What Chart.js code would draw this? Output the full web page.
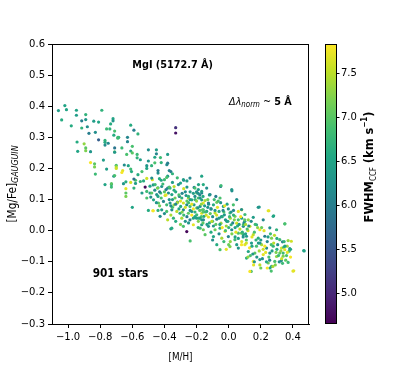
<!DOCTYPE html>
<html>
<head>
<meta charset="utf-8">
<script src="https://cdn.jsdelivr.net/npm/chart.js@4.4.1/dist/chart.umd.min.js"></script>
<style>
  html, body { margin: 0; padding: 0; background: #fff; }
  #wrap { width: 415px; height: 371px; }
</style>
</head>
<body>
<div id="wrap"><canvas id="myChart" width="415" height="371"></canvas></div>
<script>
// tick labels
const xTicks = [-1.0, -0.8, -0.6, -0.4, -0.2, 0.0, 0.2, 0.4];
const yTicks = [-0.3, -0.2, -0.1, 0.0, 0.1, 0.2, 0.3, 0.4, 0.5, 0.6];
const cbTicks = [5.0, 5.5, 6.0, 6.5, 7.0, 7.5];
const xRange = [-1.1, 0.5];
const yRange = [-0.3, 0.6];
const cbRange = [4.65, 7.83];

// stars: [M/H], [Mg/Fe] and FWHM_CCF, same order in the three lists
const starMH = [
    // metal-poor tail
    -1.06, -1.04, -1.02, -1.01, -0.98, -0.948, -0.948, -0.915, -0.89, -0.89,
    -0.915, -0.88, -0.84, -0.81, -0.79, -0.72, -0.72, -0.735, -0.76, -0.74,
    -0.71, -0.87, -0.83, -0.715, -0.69, -0.685, -0.81, -0.77, -0.77, -0.75,
    -0.77, -0.71, -0.90, -0.89, -0.89, -0.94, -0.86, -0.71, -0.78, -0.86,
    -0.835, -0.835, -0.76, -0.70, -0.83, -0.77, -0.73, -0.715, -0.70, -0.944,
    // -0.7 .. -0.3
    -0.61, -0.59, -0.565, -0.33, -0.33, -0.69, -0.63, -0.63, -0.60, -0.665,
    -0.71, -0.635, -0.61, -0.60, -0.57, -0.57, -0.55, -0.50, -0.45, -0.45,
    -0.46, -0.50, -0.425, -0.38, -0.385, -0.38, -0.46, -0.42, -0.65, -0.625,
    -0.61, -0.605, -0.51, -0.51, -0.48, -0.66, -0.665, -0.70, -0.44, -0.44,
    -0.37, -0.36, -0.35, -0.38, -0.40, -0.42, -0.475, -0.51, -0.28, -0.58,
    -0.61, -0.64, -0.52, -0.49, -0.47, -0.44, -0.38, -0.64, -0.59, -0.71,
    -0.73, -0.73, -0.655, -0.59, -0.58, -0.55, -0.53, -0.54, -0.64, -0.64,
    -0.51, -0.49, -0.485, -0.51, -0.60, -0.54, -0.565, -0.30, -0.32, -0.26,
    // scattered ones
    -0.26, -0.215, -0.05, 0.02, 0.19, 0.25, 0.28, 0.35, 0.47, 0.40,
    0.14, 0.257, -0.36, -0.24, -0.50, -0.47, -0.44,
    // -0.5 .. -0.15
    -0.479, -0.431, -0.386, -0.282, -0.241, -0.168, -0.458, -0.443, -0.417, -0.39,
    -0.365, -0.34, -0.313, -0.21, -0.189, -0.168, -0.158, -0.479, -0.448, -0.423,
    -0.396, -0.375, -0.354, -0.334, -0.307, -0.292, -0.265, -0.251, -0.23, -0.21,
    -0.189, -0.168, -0.158, -0.468, -0.437, -0.406, -0.386, -0.365, -0.34, -0.319,
    -0.299, -0.282, -0.261, -0.241, -0.216, -0.199, -0.178, -0.158, -0.472, -0.417,
    -0.386, -0.354, -0.323, -0.303, -0.282, -0.251, -0.23, -0.199, -0.168, -0.154,
    -0.427, -0.344, -0.292, -0.241, -0.22, -0.189, -0.168, -0.354, -0.282, -0.22,
    -0.168, -0.158, -0.261,
    // -0.2 .. 0.1
    -0.188, -0.137, -0.048, 0.019, -0.199, -0.168, -0.116, -0.054, 0.05, 0.081,
    -0.209, -0.178, -0.147, -0.126, -0.095, -0.074, -0.033, -0.002, 0.029, 0.06,
    -0.192, -0.163, -0.137, -0.11, -0.085, -0.06, -0.027, 0.008, 0.039, 0.081,
    -0.188, -0.157, -0.126, -0.101, -0.074, -0.048, -0.012, 0.015, 0.05, 0.091,
    -0.178, -0.126, -0.085, -0.054, -0.023, 0.019, 0.06, 0.091, -0.147, -0.095,
    -0.043, -0.002, 0.039, 0.081, -0.074, 0.008, 0.06, -0.054,
    // 0.07 .. 0.35
    0.184, 0.246, 0.277, 0.08, 0.101, 0.122, 0.153, 0.215, 0.091, 0.132,
    0.173, 0.194, 0.256, 0.298, 0.08, 0.111, 0.153, 0.184, 0.225, 0.267,
    0.318, 0.101, 0.142, 0.173, 0.205, 0.236, 0.277, 0.329, 0.122, 0.163,
    0.215, 0.256, 0.298, 0.339, 0.111, 0.153, 0.194, 0.246, 0.287, 0.194,
    0.267, 0.132,
    // metal-rich end
    0.349, 0.37, 0.39, 0.335, 0.343, 0.364, 0.38, 0.349, 0.376, 0.467,
    0.339, 0.328, 0.37, 0.405, 0.318,
    // more in the dense band
    -0.40, -0.37, -0.33, -0.30, -0.27, -0.25, -0.22, -0.20, -0.18, -0.35,
    -0.31, -0.27, -0.24, -0.21, -0.18, -0.40, -0.36, -0.33, -0.26, -0.23,
    -0.20, -0.17, -0.30, -0.25, -0.19, -0.44, -0.43, -0.46, -0.41, -0.35,
    -0.15, -0.13, -0.11, -0.09, -0.07, -0.05, -0.03, -0.01, 0.01, 0.03,
    -0.14, -0.12, -0.10, -0.08, -0.06, -0.04, -0.02, 0.0, 0.02, 0.04,
    0.06, 0.07, -0.06, -0.03, 0.01, 0.05, -0.11, -0.16, 0.09, -0.015,
    0.10, 0.12, 0.14, 0.16, 0.18, 0.20, 0.22, 0.24, 0.26, 0.28,
    0.30, 0.11, 0.13, 0.15, 0.17, 0.19, 0.21, 0.23, 0.25, 0.27,
    0.29, 0.31, 0.33, 0.35, 0.20, 0.16, 0.24, 0.36, 0.30, 0.12,
    // band fill, -0.45 .. -0.15
    -0.45, -0.42, -0.39, -0.36, -0.34, -0.32, -0.29, -0.28, -0.26, -0.24,
    -0.23, -0.21, -0.19, -0.17, -0.16, -0.43, -0.38, -0.35, -0.31, -0.29,
    -0.27, -0.25, -0.22, -0.20, -0.18, -0.37, -0.33, -0.28, -0.24, -0.16,
    // band fill, -0.15 .. 0.12
    -0.145, -0.125, -0.105, -0.085, -0.065, -0.045, -0.025, -0.005, 0.015, 0.035,
    0.055, 0.075, 0.095, 0.115, -0.135, -0.115, -0.095, -0.075, -0.055, -0.035,
    -0.015, 0.005, 0.025, 0.045, 0.065, 0.085, 0.105, -0.12, -0.08, -0.04,
    0.0, 0.04, 0.08, -0.10, -0.02, 0.06, 0.11, -0.13, 0.03, 0.10,
    // band fill, 0.1 .. 0.4
    0.105, 0.125, 0.145, 0.165, 0.185, 0.205, 0.225, 0.245, 0.265, 0.285,
    0.305, 0.325, 0.345, 0.365, 0.385, 0.135, 0.175, 0.215, 0.255, 0.295,
    0.335, 0.155, 0.195, 0.235, 0.275, 0.315, 0.355, 0.385, 0.145, 0.265
];

const starMgFe = [
    0.386, 0.356, 0.402, 0.389, 0.337, 0.387, 0.371, 0.353, 0.373, 0.357,
    0.33, 0.334, 0.352, 0.349, 0.387, 0.36, 0.353, 0.343, 0.327, 0.327,
    0.32, 0.313, 0.316, 0.307, 0.297, 0.30, 0.292, 0.29, 0.284, 0.281,
    0.275, 0.266, 0.279, 0.266, 0.257, 0.255, 0.254, 0.253, 0.227, 0.219,
    0.215, 0.205, 0.198, 0.21, 0.182, 0.148, 0.148, 0.175, 0.205, 0.285,

    0.339, 0.323, 0.311, 0.331, 0.314, 0.30, 0.30, 0.286, 0.271, 0.266,
    0.252, 0.245, 0.256, 0.25, 0.245, 0.234, 0.228, 0.26, 0.26, 0.247,
    0.236, 0.224, 0.235, 0.245, 0.212, 0.217, 0.218, 0.219, 0.211, 0.209,
    0.198, 0.19, 0.209, 0.20, 0.209, 0.193, 0.187, 0.20, 0.193, 0.185,
    0.193, 0.19, 0.183, 0.175, 0.164, 0.162, 0.164, 0.168, 0.162, 0.162,
    0.155, 0.157, 0.14, 0.143, 0.147, 0.138, 0.137, 0.135, 0.137, 0.177,
    0.151, 0.14, 0.151, 0.166, 0.152, 0.158, 0.16, 0.121, 0.121, 0.11,
    0.126, 0.121, 0.108, 0.105, 0.075, 0.19, 0.18, 0.153, 0.17, 0.14,

    0.16, 0.139, 0.142, 0.128, 0.076, 0.064, 0.048, 0.022, -0.065, -0.13,
    -0.131, -0.12, 0.006, -0.033, 0.065, 0.064, 0.065,

    0.169, 0.167, 0.171, 0.164, 0.169, 0.175, 0.148, 0.137, 0.142, 0.132,
    0.137, 0.142, 0.148, 0.137, 0.132, 0.121, 0.148, 0.121, 0.116, 0.121,
    0.113, 0.121, 0.116, 0.105, 0.11, 0.105, 0.113, 0.105, 0.099, 0.11,
    0.105, 0.099, 0.089, 0.099, 0.089, 0.094, 0.083, 0.089, 0.083, 0.092,
    0.078, 0.089, 0.083, 0.078, 0.083, 0.073, 0.078, 0.067, 0.064, 0.067,
    0.062, 0.067, 0.062, 0.056, 0.067, 0.056, 0.062, 0.051, 0.056, 0.046,
    0.046, 0.04, 0.04, 0.035, 0.04, 0.03, 0.035, 0.008, 0.014, 0.019,
    0.019, 0.003, -0.003,

    0.148, 0.137, 0.145, 0.132, 0.121, 0.126, 0.116, 0.105, 0.10, 0.067,
    0.10, 0.105, 0.097, 0.089, 0.083, 0.091, 0.078, 0.07, 0.083, 0.062,
    0.073, 0.067, 0.062, 0.07, 0.057, 0.062, 0.051, 0.057, 0.046, 0.04,
    0.04, 0.035, 0.044, 0.03, 0.037, 0.024, 0.03, 0.019, 0.024, 0.014,
    0.008, 0.014, 0.003, 0.008, -0.002, 0.003, -0.008, -0.013, -0.013, -0.019,
    -0.024, -0.019, -0.029, -0.035, -0.045, -0.051, -0.056, -0.061,

    0.075, 0.064, 0.046, 0.068, 0.052, 0.035, 0.043, 0.035, 0.019, 0.014,
    0.019, 0.003, 0.009, 0.003, -0.008, -0.018, -0.013, -0.024, -0.018, -0.024,
    -0.029, -0.045, -0.04, -0.05, -0.045, -0.056, -0.05, -0.056, -0.067, -0.072,
    -0.077, -0.072, -0.083, -0.072, -0.088, -0.099, -0.093, -0.104, -0.099, -0.11,
    -0.115, -0.131,

    0.022, -0.032, -0.034, -0.036, -0.053, -0.05, -0.058, -0.061, -0.066, -0.064,
    -0.082, -0.096, -0.102, -0.129, -0.072,

    0.125, 0.10, 0.125, 0.095, 0.125, 0.09, 0.12, 0.095, 0.115, 0.075,
    0.07, 0.075, 0.065, 0.06, 0.065, 0.055, 0.05, 0.03, 0.045, 0.05,
    0.04, 0.045, 0.02, 0.025, 0.01, 0.11, 0.08, 0.13, 0.15, 0.155,
    0.08, 0.10, 0.07, 0.10, 0.075, 0.09, 0.06, 0.085, 0.04, 0.065,
    0.05, 0.025, 0.045, 0.02, 0.04, 0.01, 0.035, 0.01, -0.01, 0.01,
    0.035, 0.005, -0.01, -0.035, -0.035, -0.045, -0.005, 0.025, -0.02, -0.06,
    0.03, 0.0, 0.03, -0.005, 0.01, -0.03, 0.0, -0.035, -0.01, -0.04,
    -0.06, -0.03, -0.055, -0.075, -0.03, -0.065, -0.09, -0.07, -0.085, -0.065,
    -0.11, -0.08, -0.09, -0.05, -0.12, -0.10, -0.12, -0.08, -0.025, -0.085,

    0.09, 0.105, 0.115, 0.08, 0.13, 0.09, 0.12, 0.05, 0.095, 0.125,
    0.085, 0.045, 0.12, 0.085, 0.11, 0.125, 0.035, 0.10, 0.115, 0.06,
    0.03, 0.11, 0.07, 0.125, 0.04, 0.14, 0.085, 0.135, 0.10, 0.06,

    0.06, 0.085, 0.03, 0.065, 0.095, 0.045, 0.08, 0.03, 0.06, 0.035,
    0.015, 0.045, 0.025, 0.005, 0.02, 0.055, 0.015, 0.05, 0.02, 0.065,
    0.015, 0.045, 0.025, -0.005, 0.02, -0.005, 0.02, 0.115, 0.11, 0.045,
    -0.045, -0.02, -0.045, -0.03, 0.0, -0.025, -0.04, 0.075, 0.05, 0.035,

    -0.01, 0.015, -0.02, 0.02, -0.04, 0.01, -0.05, -0.02, -0.045, -0.015,
    -0.045, -0.065, -0.035, -0.07, -0.06, -0.08, -0.085, -0.06, -0.095, -0.07,
    -0.105, -0.11, -0.04, -0.1, -0.115, -0.1, -0.095, -0.085, -0.05, -0.13
];

const starFWHM = [
    6.4, 6.6, 6.5, 6.5, 6.6, 6.5, 6.4, 6.0, 6.7, 6.3,
    6.7, 6.2, 6.4, 6.5, 6.7, 6.5, 6.3, 6.6, 6.8, 6.7,
    6.9, 6.0, 6.2, 6.6, 6.9, 6.7, 5.6, 6.7, 6.6, 6.1,
    6.2, 5.9, 7.3, 7.0, 7.2, 6.5, 6.3, 7.0, 6.4, 7.8,
    7.0, 7.2, 6.4, 6.9, 6.8, 6.5, 6.6, 6.3, 7.4, 6.6,

    6.6, 6.0, 6.7, 5.1, 4.8, 6.8, 6.1, 6.1, 6.9, 6.8,
    6.3, 6.9, 6.6, 7.0, 6.8, 6.7, 6.4, 6.2, 6.4, 6.1,
    6.5, 6.3, 6.8, 6.4, 6.2, 6.0, 6.9, 6.7, 6.2, 6.5,
    6.8, 6.6, 6.3, 6.5, 6.7, 7.7, 7.8, 7.6, 6.0, 6.2,
    6.1, 6.0, 6.7, 6.4, 6.8, 6.5, 7.7, 7.6, 6.1, 6.9,
    7.6, 6.6, 4.7, 6.5, 6.3, 6.6, 6.2, 7.7, 6.7, 6.9,
    7.0, 6.8, 6.3, 5.8, 6.4, 6.7, 6.6, 6.4, 7.0, 7.2,
    6.8, 6.4, 6.2, 6.9, 6.5, 6.9, 6.6, 6.5, 6.8, 6.3,

    6.4, 6.1, 6.0, 6.2, 6.3, 7.7, 6.6, 6.9, 6.4, 7.7,
    6.8, 6.5, 6.3, 6.9, 6.6, 7.7, 6.7,

    6.2, 6.6, 6.9, 6.4, 6.1, 6.5, 6.8, 7.2, 6.3, 6.0,
    6.7, 7.5, 6.2, 6.9, 6.4, 6.1, 6.6, 7.0, 6.3, 6.8,
    7.6, 6.2, 6.5, 7.1, 6.0, 6.7, 6.3, 7.4, 6.6, 6.2,
    6.9, 6.4, 7.7, 6.5, 7.0, 6.1, 6.8, 6.3, 7.3, 6.0,
    6.6, 7.6, 6.2, 6.9, 6.4, 7.1, 6.3, 6.7, 7.8, 6.4,
    6.9, 6.2, 7.5, 6.6, 6.1, 7.0, 6.3, 6.8, 7.7, 6.5,
    6.2, 6.7, 7.4, 6.0, 6.5, 7.2, 6.3, 6.6, 6.9, 7.7,
    6.4, 7.1, 4.7,

    6.5, 6.2, 6.8, 6.3, 7.0, 6.4, 6.1, 6.9, 6.2, 7.6,
    6.7, 6.3, 7.4, 6.0, 6.6, 7.1, 6.4, 6.2, 6.9, 7.7,
    6.3, 7.0, 6.5, 6.1, 7.5, 6.6, 6.3, 6.8, 7.2, 6.4,
    6.9, 6.2, 7.7, 6.5, 6.0, 7.3, 6.4, 6.7, 7.6, 6.2,
    6.8, 6.3, 7.1, 6.6, 7.8, 6.2, 6.9, 6.4, 7.0, 6.5,
    7.4, 6.1, 6.8, 7.7, 6.6, 7.2, 6.3, 6.9,

    6.3, 7.7, 6.5, 6.2, 6.8, 7.3, 6.4, 6.1, 6.9, 7.6,
    6.5, 7.8, 6.2, 6.7, 7.1, 6.3, 7.5, 6.6, 6.0, 7.2,
    6.8, 7.7, 6.4, 6.9, 7.4, 6.2, 6.7, 7.6, 6.5, 7.0,
    7.7, 6.3, 7.3, 6.8, 6.6, 7.8, 6.4, 7.1, 6.9, 7.5,
    6.5, 7.8,

    6.9, 7.3, 7.6, 6.1, 6.8, 7.4, 6.3, 7.7, 6.9, 6.5,
    7.2, 6.2, 6.8, 7.7, 7.0,

    7.0, 6.3, 6.6, 7.7, 6.2, 6.8, 6.4, 7.3, 6.1, 6.9,
    6.5, 7.6, 6.3, 6.7, 7.0, 6.2, 7.4, 6.6, 6.0, 7.8,
    6.4, 6.9, 7.2, 6.3, 6.7, 6.5, 7.1, 6.2, 6.8, 6.4,
    6.4, 7.1, 6.2, 6.8, 7.7, 6.3, 6.9, 6.5, 7.4, 6.1,
    7.6, 6.6, 6.2, 7.0, 6.4, 7.8, 6.3, 6.7, 7.2, 6.5,
    6.9, 7.5, 6.2, 6.8, 7.3, 6.4, 6.6, 7.0, 6.3, 7.7,
    6.5, 7.6, 6.2, 6.9, 7.3, 6.4, 7.7, 6.1, 6.8, 7.5,
    6.6, 7.0, 7.8, 6.3, 6.7, 7.4, 6.2, 7.7, 6.9, 6.4,
    7.2, 6.8, 7.6, 6.5, 7.1, 6.3, 7.8, 6.9, 6.6, 7.3,

    6.3, 6.9, 7.7, 6.2, 6.6, 7.4, 6.1, 6.8, 7.0, 6.4,
    7.7, 6.5, 6.2, 7.3, 6.6, 6.0, 7.5, 6.4, 6.9, 7.2,
    6.3, 6.7, 7.8, 6.2, 6.5, 6.9, 6.1, 7.6, 6.4, 7.0,

    6.8, 6.2, 7.5, 6.4, 6.9, 6.1, 7.7, 6.5, 6.3, 7.2,
    6.6, 7.8, 6.2, 6.9, 6.4, 7.0, 6.3, 7.6, 6.5, 6.2,
    7.3, 6.8, 6.1, 7.7, 6.4, 6.7, 7.4, 6.3, 6.0, 6.6,
    7.1, 6.5, 7.8, 6.2, 6.9, 6.4, 7.6, 6.3, 6.7, 7.0,

    6.5, 6.2, 7.7, 6.8, 6.3, 7.1, 7.8, 6.4, 6.9, 7.5,
    6.2, 7.3, 6.7, 7.7, 6.5, 6.9, 6.3, 7.6, 6.1, 7.2,
    6.8, 7.7, 6.4, 6.6, 7.4, 6.2, 7.0, 7.8, 6.5, 6.9
];

if (starMH.length !== starMgFe.length || starMH.length !== starFWHM.length) {
    console.error('lengths differ', starMH.length, starMgFe.length, starFWHM.length);
}

// viridis
const viridis = ['#440154', '#482475', '#414487', '#355f8d', '#2a788e', '#21918c',
                 '#22a884', '#44bf70', '#7ad151', '#bddf26', '#fde725'];

function hexToRgb(h) {
    return [parseInt(h.slice(1, 3), 16), parseInt(h.slice(3, 5), 16), parseInt(h.slice(5, 7), 16)];
}

function colorFor(v) {
    let t = (v - cbRange[0]) / (cbRange[1] - cbRange[0]);
    t = Math.max(0, Math.min(1, t)) * 10;
    const i = Math.min(9, Math.floor(t));
    const f = t - i;
    const a = hexToRgb(viridis[i]), b = hexToRgb(viridis[i + 1]);
    const c = a.map((x, k) => Math.round(x + (b[k] - x) * f));
    return `rgb(${c[0]},${c[1]},${c[2]})`;
}

function fmt(v) {
    return v.toFixed(1).replace('-', '\u2212');
}

// text made of pieces (sub/superscripts), squeezed a bit like the reference
function drawRuns(ctx, parts, x, y, align, rot) {
    ctx.save();
    ctx.translate(x, y);
    if (rot) ctx.rotate(rot);
    ctx.scale(0.88, 1);
    ctx.textBaseline = 'middle';
    ctx.textAlign = 'left';
    let w = 0;
    parts.forEach(p => { ctx.font = p[1]; w += ctx.measureText(p[0]).width; });
    let cx = align === 'center' ? -w / 2 : 0;
    parts.forEach(p => {
        ctx.font = p[1];
        ctx.fillText(p[0], cx, p[2] || 0);
        cx += ctx.measureText(p[0]).width;
    });
    ctx.restore();
}

const FONT = '"DejaVu Sans", sans-serif';

const decor = {
    id: 'decor',
    afterDraw(chart) {
        const ctx = chart.ctx;
        const a = chart.chartArea;
        const xs = chart.scales.x, ys = chart.scales.y, cb = chart.scales.cb;
        ctx.save();
        ctx.fillStyle = '#000';
        ctx.strokeStyle = '#000';

        // frame
        ctx.lineWidth = 1;
        ctx.strokeRect(a.left + 0.5, a.top + 0.5, a.right - a.left - 1, a.bottom - a.top);

        // colour bar
        const bx0 = 325, bx1 = 336;
        const top = cb.getPixelForValue(cbRange[1]);
        const bot = cb.getPixelForValue(cbRange[0]);
        const g = ctx.createLinearGradient(0, bot, 0, top);
        viridis.forEach((c, i) => g.addColorStop(i / 10, c));
        ctx.fillStyle = g;
        ctx.fillRect(bx0, top, bx1 - bx0, bot - top);
        ctx.strokeRect(bx0 + 0.5, top + 0.5, bx1 - bx0, bot - top - 1);
        cbTicks.forEach(v => {
            const py = Math.round(cb.getPixelForValue(v)) + 0.5;
            ctx.beginPath();
            ctx.moveTo(bx1, py);
            ctx.lineTo(bx1 + 3.5, py);
            ctx.stroke();
        });
        ctx.fillStyle = '#000';

        // annotations
        drawRuns(ctx, [['MgI (5172.7 \u00c5)', 'bold 11px ' + FONT]],
            xs.getPixelForValue(-0.349), ys.getPixelForValue(0.531), 'center');
        drawRuns(ctx, [
            ['\u0394\u03bb', 'italic 11px ' + FONT],
            ['norm', 'italic 8px ' + FONT, 3],
            [' ~ ', '11px ' + FONT],
            ['5 \u00c5', 'bold 11px ' + FONT]
        ], xs.getPixelForValue(0.002), ys.getPixelForValue(0.414), 'left');
        drawRuns(ctx, [['901 stars', 'bold 12px ' + FONT]],
            xs.getPixelForValue(-0.847), ys.getPixelForValue(-0.139), 'left');

        // axis titles
        drawRuns(ctx, [['[M/H]', '10px ' + FONT]], (a.left + a.right) / 2, 357, 'center');
        drawRuns(ctx, [
            ['[Mg/Fe]', '12px ' + FONT],
            ['GAUGUIN', 'italic 9px ' + FONT, 3]
        ], 13, (a.top + a.bottom) / 2, 'center', -Math.PI / 2);
        drawRuns(ctx, [
            ['FWHM', 'bold 13px ' + FONT],
            ['CCF', '8px ' + FONT, 3.5],
            [' (km s', 'bold 13px ' + FONT],
            ['\u22121', 'bold 8px ' + FONT, -5],
            [')', 'bold 13px ' + FONT]
        ], 370, 167, 'center', -Math.PI / 2);
        ctx.restore();
    }
};

const ctx = document.getElementById('myChart').getContext('2d');

new Chart(ctx, {
    type: 'scatter',
    data: {
        datasets: [{
            label: 'stars',
            data: starMH.map((x, i) => ({ x: x, y: starMgFe[i] })),
            pointBackgroundColor: starFWHM.map(colorFor),
            pointBorderWidth: 0,
            pointRadius: 1.6,
            pointHoverRadius: 1.6,
        }],
    },
    options: {
        responsive: false,
        animation: false,
        devicePixelRatio: 1,
        layout: { padding: { top: 44, left: 0, right: 0, bottom: 0 } },
        plugins: {
            legend: { display: false },
            tooltip: { enabled: false },
        },
        scales: {
            x: {
                type: 'linear',
                min: xRange[0],
                max: xRange[1],
                afterBuildTicks: s => { s.ticks = xTicks.map(v => ({ value: v })); },
                afterFit: s => { s.height = 47; },
                grid: { drawOnChartArea: false, drawTicks: true, tickLength: 4, color: '#000' },
                border: { display: true, color: '#000' },
                ticks: {
                    color: '#000',
                    padding: 3,
                    maxRotation: 0,
                    font: { size: 10, family: FONT },
                    callback: v => fmt(v),
                },
            },
            y: {
                type: 'linear',
                position: 'left',
                min: yRange[0],
                max: yRange[1],
                afterBuildTicks: s => { s.ticks = yTicks.map(v => ({ value: v })); },
                afterFit: s => { s.width = 52; },
                grid: { drawOnChartArea: false, drawTicks: true, tickLength: 4, color: '#000' },
                border: { display: true, color: '#000' },
                ticks: {
                    color: '#000',
                    padding: 3,
                    font: { size: 10, family: FONT },
                    callback: v => fmt(v),
                },
            },
            cb: {
                type: 'linear',
                position: 'right',
                min: cbRange[0],
                max: cbRange[1],
                afterBuildTicks: s => { s.ticks = cbTicks.map(v => ({ value: v })); },
                afterFit: s => { s.width = 106; },
                grid: { display: false, drawTicks: false },
                border: { display: false },
                ticks: {
                    color: '#000',
                    padding: 32,
                    font: { size: 10, family: FONT },
                    callback: v => fmt(v),
                },
            },
        },
    },
    plugins: [decor],
});
</script>
</body>
</html>
